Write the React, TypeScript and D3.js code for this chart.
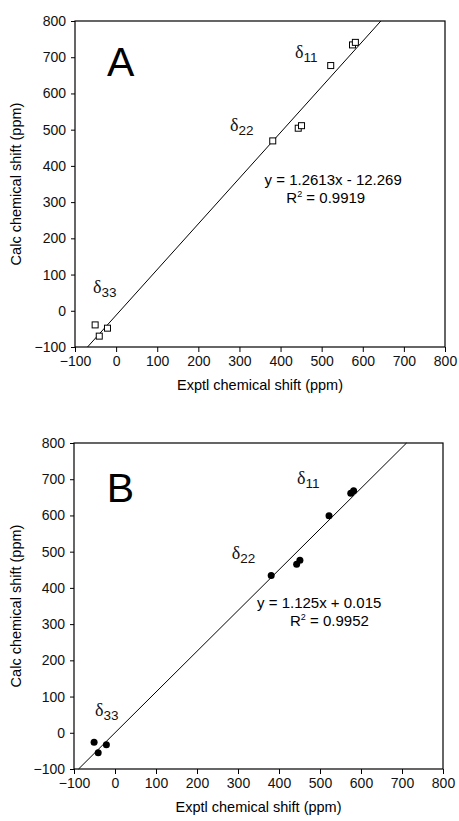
import { useEffect, useRef } from 'react';
import * as d3 from 'd3';

// experimental shifts (ppm), same for both panels
const exptl = [-51, -41, -21, 381, 443, 451, 522, 575, 582];
// calculated shifts, panel A (open squares)
const calcA = [-39, -70, -48, 469, 504, 511, 677, 734, 741];
// calculated shifts, panel B (filled dots)
const calcB = [-26, -55, -33, 434, 465, 476, 599, 661, 668];

const ticks = [-100, 0, 100, 200, 300, 400, 500, 600, 700, 800];

const fitA = { slope: 1.2613, intercept: -12.269, eq: 'y = 1.2613x - 12.269', r2: '0.9919' };
const fitB = { slope: 1.125, intercept: 0.015, eq: 'y = 1.125x + 0.015', r2: '0.9952' };

// label anchors, in data units
const deltaA = [
  { sub: '11', x: 435, y: 698 },
  { sub: '22', x: 277, y: 496 },
  { sub: '33', x: -56, y: 49 },
];
const deltaB = [
  { sub: '11', x: 444, y: 687 },
  { sub: '22', x: 285, y: 480 },
  { sub: '33', x: -49, y: 46 },
];

const SANS = "'Liberation Sans', Arial, sans-serif";
const SERIF = "'Liberation Serif', 'Times New Roman', serif";

function drawPanel(svg, opts) {
  const { left, right, top, bottom, letter, letterPos, calc, fit, deltas, marker, eqPos, r2Pos } = opts;
  const g = svg.append('g');

  const x = d3.scaleLinear().domain([-100, 800]).range([left, right]);
  const y = d3.scaleLinear().domain([-100, 800]).range([bottom, top]);

  // frame
  g.append('rect')
    .attr('x', left).attr('y', top)
    .attr('width', right - left).attr('height', bottom - top)
    .attr('fill', 'none').attr('stroke', '#000').attr('stroke-width', 1.2);

  const xAxis = g.append('g')
    .attr('transform', `translate(0,${bottom})`)
    .call(d3.axisBottom(x).tickValues(ticks).tickSize(5).tickPadding(4));
  const yAxis = g.append('g')
    .attr('transform', `translate(${left},0)`)
    .call(d3.axisLeft(y).tickValues(ticks).tickSize(4).tickPadding(5));
  [xAxis, yAxis].forEach((a) => {
    a.select('.domain').remove();
    a.selectAll('text').attr('font-family', SANS).attr('font-size', 14).attr('fill', '#111');
    a.selectAll('line').attr('stroke', '#000');
  });

  // axis titles
  g.append('text')
    .attr('x', (left + right) / 2).attr('y', bottom + 43)
    .attr('text-anchor', 'middle')
    .attr('font-family', SANS).attr('font-size', 14.5)
    .text('Exptl chemical shift (ppm)');
  g.append('text')
    .attr('transform', `translate(21,${(top + bottom) / 2}) rotate(-90)`)
    .attr('text-anchor', 'middle')
    .attr('font-family', SANS).attr('font-size', 14.5)
    .text('Calc chemical shift (ppm)');

  // panel letter
  g.append('text')
    .attr('x', x(letterPos[0])).attr('y', y(letterPos[1]))
    .attr('font-family', SANS).attr('font-size', 41)
    .text(letter);

  // regression line, clipped to the plot
  const x0 = Math.max(-100, (-100 - fit.intercept) / fit.slope);
  const x1 = Math.min(800, (800 - fit.intercept) / fit.slope);
  g.append('line')
    .attr('x1', x(x0)).attr('y1', y(fit.slope * x0 + fit.intercept))
    .attr('x2', x(x1)).attr('y2', y(fit.slope * x1 + fit.intercept))
    .attr('stroke', '#000').attr('stroke-width', 1);

  // points
  const pts = exptl.map((e, i) => ({ e, c: calc[i] }));
  if (marker === 'square') {
    g.selectAll('rect.pt').data(pts).enter().append('rect')
      .attr('class', 'pt')
      .attr('x', (d) => x(d.e) - 3).attr('y', (d) => y(d.c) - 3)
      .attr('width', 6).attr('height', 6)
      .attr('fill', 'white').attr('stroke', '#000').attr('stroke-width', 1);
  } else {
    g.selectAll('circle.pt').data(pts).enter().append('circle')
      .attr('class', 'pt')
      .attr('cx', (d) => x(d.e)).attr('cy', (d) => y(d.c))
      .attr('r', 3.5).attr('fill', '#000');
  }

  // delta labels
  deltas.forEach((d) => {
    const t = g.append('text')
      .attr('x', x(d.x)).attr('y', y(d.y))
      .attr('fill', '#111');
    t.append('tspan').attr('font-family', SERIF).attr('font-size', 18).text('δ');
    t.append('tspan').attr('font-family', SANS).attr('font-size', 13.5).attr('dy', 4).text(d.sub);
  });

  // equation and R2
  g.append('text')
    .attr('x', x(eqPos[0])).attr('y', y(eqPos[1]))
    .attr('text-anchor', 'middle')
    .attr('font-family', SANS).attr('font-size', 15)
    .text(fit.eq);
  const r = g.append('text')
    .attr('x', x(r2Pos[0])).attr('y', y(r2Pos[1]))
    .attr('text-anchor', 'middle')
    .attr('font-family', SANS).attr('font-size', 15);
  r.append('tspan').text('R');
  r.append('tspan').attr('font-size', 9).attr('dy', -6).text('2');
  r.append('tspan').attr('dy', 6).text(` = ${fit.r2}`);
}

export default function App() {
  const ref = useRef(null);

  useEffect(() => {
    const svg = d3.select(ref.current);
    svg.selectAll('*').remove();

    drawPanel(svg, {
      left: 75, right: 445, top: 21, bottom: 347,
      letter: 'A', letterPos: [-22, 648], calc: calcA, fit: fitA, deltas: deltaA, marker: 'square',
      eqPos: [528, 347], r2Pos: [510, 298],
    });
    drawPanel(svg, {
      left: 74, right: 443, top: 443, bottom: 769,
      letter: 'B', letterPos: [-20, 637], calc: calcB, fit: fitB, deltas: deltaB, marker: 'dot',
      eqPos: [498, 344], r2Pos: [523, 295],
    });
  }, []);

  return (
    <svg
      ref={ref}
      width={459}
      height={821}
      style={{ position: 'absolute', left: 0, top: 0, background: '#fff' }}
    />
  );
}
